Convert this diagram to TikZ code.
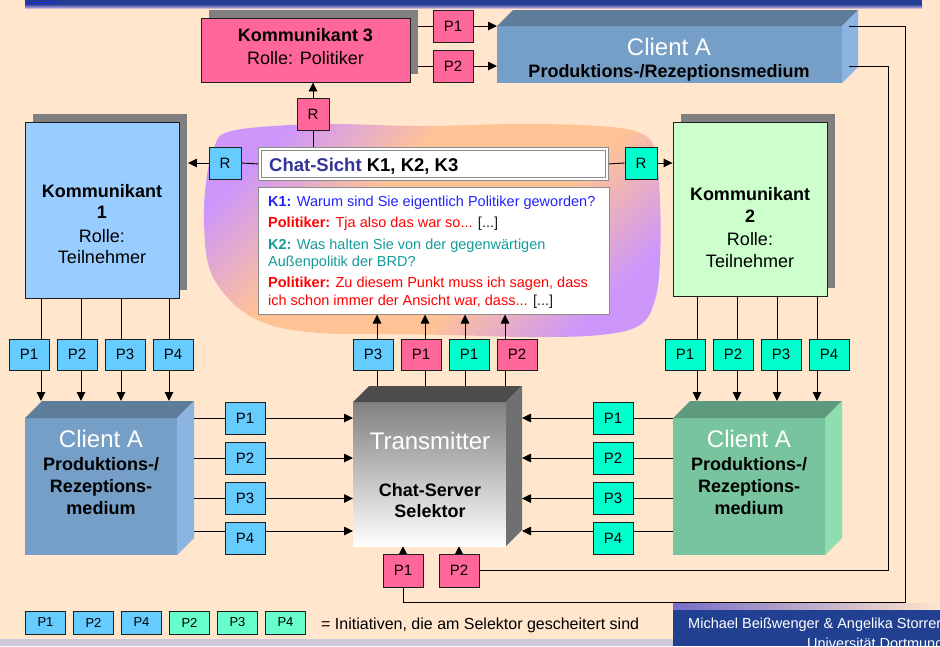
\documentclass[tikz,border=0pt]{standalone}
\usepackage{fontspec}
\setmainfont{Liberation Sans}
\usetikzlibrary{arrows.meta,calc,shadows}

\definecolor{bgpeach}{RGB}{255,230,204}
\definecolor{barblue}{RGB}{35,60,145}
\definecolor{barbright}{RGB}{30,40,225}
\definecolor{barlav}{RGB}{150,140,210}
\definecolor{footblue}{RGB}{33,64,145}
\definecolor{footlav}{RGB}{120,110,200}
\definecolor{stripgray}{RGB}{205,200,218}
\definecolor{blobpurple}{RGB}{205,150,250}
\definecolor{bloborange}{RGB}{255,195,150}
\definecolor{boxline}{RGB}{30,30,30}
\definecolor{shadowgray}{RGB}{128,128,128}
\definecolor{pinkc}{RGB}{255,102,153}
\definecolor{bluec}{RGB}{102,204,255}
\definecolor{tealc}{RGB}{0,255,204}
\definecolor{legblue}{RGB}{102,204,255}
\definecolor{leggreen}{RGB}{102,255,204}
\definecolor{kone}{RGB}{153,204,255}
\definecolor{ktwo}{RGB}{204,255,204}
\definecolor{cafront}{RGB}{117,159,198}
\definecolor{catop}{RGB}{93,125,155}
\definecolor{caside}{RGB}{139,181,224}
\definecolor{cgfront}{RGB}{119,196,158}
\definecolor{cgtop}{RGB}{94,154,125}
\definecolor{cgside}{RGB}{142,222,178}
\definecolor{trfront}{RGB}{128,128,128}
\definecolor{trtop}{RGB}{77,77,77}
\definecolor{trside}{RGB}{112,112,112}
\definecolor{headline}{RGB}{140,140,140}
\definecolor{chatblue}{RGB}{34,34,255}
\definecolor{chatred}{RGB}{255,0,0}
\definecolor{chatteal}{RGB}{20,155,155}
\definecolor{sichtblue}{RGB}{51,51,153}

% purple corners with a broad orange band across the cloud
\pgfdeclareverticalshading{cloudshade}{100bp}{%
  color(0bp)=(blobpurple); color(24bp)=(blobpurple); color(40bp)=(bloborange);
  color(60bp)=(bloborange); color(76bp)=(blobpurple); color(100bp)=(blobpurple)}

\pgfdeclarelayer{back}
\pgfdeclarelayer{wires}
\pgfsetlayers{back,wires,main}

% top face and right face of a box drawn in false perspective
\newcommand\cubefaces[4]{%
  \fill[#3] (#1.north west) -- ++(#2,-#2) -- ($(#1.north east)+(#2,-#2)$) -- (#1.north east) -- cycle;
  \fill[#4] (#1.north east) -- ++(#2,-#2) -- ($(#1.south east)+(#2,-#2)$) -- (#1.south east) -- cycle;}

\begin{document}
\begin{tikzpicture}[x=1pt,y=-1pt,
  box/.style={draw=boxline, line width=0.9pt, inner sep=0pt},
  pbox/.style={box, minimum width=40pt, minimum height=32pt, font=\fontsize{15}{18}\selectfont},
  legbox/.style={box, line width=0.8pt, minimum width=40pt, minimum height=23pt, font=\fontsize{13}{15}\selectfont},
  shadowed/.style={general shadow={fill=shadowgray, shadow xshift=8pt, shadow yshift=8pt}},
  wire/.style={line width=0.9pt, draw=black},
  arr/.style={wire, -{Triangle[width=8.5pt,length=9pt]}},
  face/.style={inner sep=0pt, outer sep=0pt},
  whitetitle/.style={anchor=base, text=white, inner sep=0pt, font=\fontsize{24}{28}\selectfont},
  boldline/.style={anchor=base, inner sep=0pt, font=\bfseries\fontsize{18}{22}\selectfont},
  plainline/.style={anchor=base, inner sep=0pt, font=\fontsize{18}{22}\selectfont},
  chatline/.style={anchor=base west, inner sep=0pt, font=\fontsize{14.5}{17}\selectfont},
]
\useasboundingbox (0,0) rectangle (940,646);

% ---------- background, title bar, chat cloud ----------
\begin{pgfonlayer}{back}
  \fill[bgpeach] (0,0) rectangle (940,646);
  \fill[barblue] (25,0) rectangle (922,4);
  \shade[top color=barblue, bottom color=barlav] (25,4) rectangle (922,7);
  \shade[top color=barlav, bottom color=bgpeach] (25,7) rectangle (922,9);
  \fill[barbright] (25,1.5) rectangle (57,3);
  \shade[shading=cloudshade, shading angle=45]
    plot[smooth cycle, tension=0.6] coordinates {
      (225,133) (260,127) (330,124) (420,126) (520,124) (600,126) (640,133)
      (655,150) (660,200) (660,260) (655,300) (640,325) (600,335) (530,337)
      (450,335) (380,334) (320,333) (270,325) (235,305) (210,270) (204,220)
      (207,175) (215,145)};
\end{pgfonlayer}

% ---------- Kommunikant 3 and its client ----------
\node[box, shadowed, fill=pinkc, minimum width=209pt, minimum height=64pt] (k3) at (305.5,50) {};
\node[boldline] (k3a) at (305.5,41.5) {Kommunikant 3};
\node[plainline] (k3b) at (305.5,64) {Rolle: Politiker};
\node[pbox, fill=pinkc] (k3p1) at (453,26) {P1};
\node[pbox, fill=pinkc] (k3p2) at (453,66) {P2};

\node[face, fill=cafront, minimum width=345pt, minimum height=57pt] (ca0) at (669.5,54.5) {};
\cubefaces{ca0}{16}{catop}{caside}
\node[whitetitle] (ca0a) at (669,55) {Client A};
\node[boldline] (ca0b) at (669,77) {Produktions-/Rezeptionsmedium};

% ---------- chat view ----------
\node[pbox, fill=pinkc, minimum width=32pt] (rt) at (313,114) {R};
\node[pbox, fill=bluec, minimum width=32pt] (rl) at (225,163) {R};
\node[pbox, fill=tealc, minimum width=32pt] (rr) at (641,163) {R};

\node[draw=headline, double=white, double distance=2pt, line width=1pt, fill=white,
      minimum width=347pt, minimum height=30pt, inner sep=0pt] (head) at (433.5,164) {};
\node[anchor=base west, inner sep=0pt, font=\bfseries\fontsize{18.5}{22}\selectfont] (headt) at (269,171)
  {\textcolor{sichtblue}{Chat-Sicht} K1, K2, K3};

\node[draw=headline, line width=1pt, fill=white, minimum width=351pt, minimum height=127pt] (chat) at (433.5,250.5) {};
\node[chatline, text=chatblue] (l1) at (268,206) {\textbf{K1:} Warum sind Sie eigentlich Politiker geworden?};
\node[chatline, text=chatred] (l2) at (268,227) {\textbf{Politiker:} Tja also das war so... \textcolor{boxline}{[...]}};
\node[chatline, text=chatteal] (l3) at (268,249) {\textbf{K2:} Was halten Sie von der gegenwärtigen};
\node[chatline, text=chatteal] (l4) at (268,266) {Außenpolitik der BRD?};
\node[chatline, text=chatred] (l5) at (268,287) {\textbf{Politiker:} Zu diesem Punkt muss ich sagen, dass};
\node[chatline, text=chatred] (l6) at (268,305) {ich schon immer der Ansicht war, dass... \textcolor{boxline}{[...]}};

% ---------- Kommunikant 1 ----------
\node[box, shadowed, fill=kone, minimum width=154pt, minimum height=176pt] (k1) at (102,210) {};
\node[boldline] (k1a) at (102,197) {Kommunikant};
\node[boldline] (k1b) at (102,218) {1};
\node[plainline] (k1c) at (102,242) {Rolle:};
\node[plainline] (k1d) at (102,263) {Teilnehmer};
\node[pbox, fill=bluec, minimum height=31pt] (k1p1) at (29,354.5) {P1};
\node[pbox, fill=bluec, minimum height=31pt] (k1p2) at (77,354.5) {P2};
\node[pbox, fill=bluec, minimum height=31pt] (k1p3) at (125,354.5) {P3};
\node[pbox, fill=bluec, minimum height=31pt] (k1p4) at (173,354.5) {P4};

\node[face, fill=cafront, minimum width=152pt, minimum height=137pt] (cl1) at (101,486.5) {};
\cubefaces{cl1}{17}{catop}{caside}
\node[whitetitle] (cl1a) at (101,447) {Client A};
\node[boldline] (cl1b) at (101,470) {Produktions-/};
\node[boldline] (cl1c) at (101,492) {Rezeptions-};
\node[boldline] (cl1d) at (101,514) {medium};

\node[pbox, fill=bluec] (lp1) at (245,418) {P1};
\node[pbox, fill=bluec] (lp2) at (245,458) {P2};
\node[pbox, fill=bluec] (lp3) at (245,498.5) {P3};
\node[pbox, fill=bluec] (lp4) at (245,538.5) {P4};

% ---------- Transmitter ----------
\node[face, top color=trfront, bottom color=white, minimum width=153pt, minimum height=144pt] (tr) at (429.5,474) {};
\cubefaces{tr}{16}{trtop}{trside}
\node[whitetitle] (tra) at (430,449) {Transmitter};
\node[boldline] (trb) at (430,496) {Chat-Server};
\node[boldline] (trc) at (430,517) {Selektor};

\node[pbox, fill=bluec, minimum height=31pt] (tp3) at (373,354.5) {P3};
\node[pbox, fill=pinkc, minimum height=31pt] (tp1) at (421,354.5) {P1};
\node[pbox, fill=tealc, minimum height=31pt] (tq1) at (469,354.5) {P1};
\node[pbox, fill=pinkc, minimum height=31pt] (tp2) at (517,354.5) {P2};

\node[pbox, fill=pinkc, minimum height=33pt] (bp1) at (403,570.5) {P1};
\node[pbox, fill=pinkc, minimum height=33pt] (bp2) at (459,570.5) {P2};

% ---------- Kommunikant 2 ----------
\node[box, shadowed, fill=ktwo, minimum width=154pt, minimum height=174pt] (k2) at (750,209) {};
\node[boldline] (k2a) at (750,200) {Kommunikant};
\node[boldline] (k2b) at (750,222.5) {2};
\node[plainline] (k2c) at (750,245) {Rolle:};
\node[plainline] (k2d) at (750,267) {Teilnehmer};
\node[pbox, fill=tealc, minimum height=31pt] (k2p1) at (685,354.5) {P1};
\node[pbox, fill=tealc, minimum height=31pt] (k2p2) at (733,354.5) {P2};
\node[pbox, fill=tealc, minimum height=31pt] (k2p3) at (781,354.5) {P3};
\node[pbox, fill=tealc, minimum height=31pt] (k2p4) at (829,354.5) {P4};

\node[face, fill=cgfront, minimum width=152pt, minimum height=137pt] (cl2) at (749,486.5) {};
\cubefaces{cl2}{17}{cgtop}{cgside}
\node[whitetitle] (cl2a) at (749,447) {Client A};
\node[boldline] (cl2b) at (749,470) {Produktions-/};
\node[boldline] (cl2c) at (749,492) {Rezeptions-};
\node[boldline] (cl2d) at (749,514) {medium};

\node[pbox, fill=tealc] (rp1) at (613,418) {P1};
\node[pbox, fill=tealc] (rp2) at (613,458) {P2};
\node[pbox, fill=tealc] (rp3) at (613,498.5) {P3};
\node[pbox, fill=tealc] (rp4) at (613,538.5) {P4};

% ---------- legend and footer ----------
\node[legbox, fill=legblue] (lg1) at (45.5,622.5) {P1};
\node[legbox, fill=legblue] (lg2) at (93.5,622.5) {P2};
\node[legbox, fill=legblue] (lg3) at (141.5,622.5) {P4};
\node[legbox, fill=leggreen] (lg4) at (189.5,622.5) {P2};
\node[legbox, fill=leggreen] (lg5) at (237.5,622.5) {P3};
\node[legbox, fill=leggreen] (lg6) at (285.5,622.5) {P4};
\node[anchor=base west, inner sep=0pt, font=\fontsize{16}{19}\selectfont] (lgt) at (321,629)
  {= Initiativen, die am Selektor gescheitert sind};

\fill[stripgray] (0,639) rectangle (673,646);
\fill[footblue] (673,609) rectangle (940,646);
\shade[left color=footlav, right color=bgpeach] (673,603) rectangle (940,609);
\begin{scope}
  \clip (0,0) rectangle (940,646);
  \node[anchor=base west, inner sep=0pt, text=white, font=\fontsize{14.5}{17}\selectfont] (fa) at (688,628)
    {Michael Beißwenger \& Angelika Storrer};
  \node[anchor=base west, inner sep=0pt, text=white, font=\fontsize{14.5}{17}\selectfont] (fb) at (807,648)
    {Universität Dortmund};
\end{scope}

% ---------- connector end points ----------
\coordinate (u1) at (41,401);  \coordinate (u2) at (81,401);
\coordinate (u3) at (121,401); \coordinate (u4) at (169,401);
\coordinate (w1) at (697,401); \coordinate (w2) at (737,401);
\coordinate (w3) at (777,401); \coordinate (w4) at (817,401);
\coordinate (v1) at (377,386); \coordinate (v2) at (425,386);
\coordinate (v3) at (465,386); \coordinate (v4) at (505,386);
\coordinate (h1) at (lp1.center); \coordinate (h2) at (lp2.center);
\coordinate (h3) at (lp3.center); \coordinate (h4) at ([yshift=7.5pt]lp4.center);
\coordinate (trR) at ($(tr.east)+(16,0)$);
\coordinate (railA) at (905,602);
\coordinate (railB) at (888,570.5);
\coordinate (outA) at ($(k3p1 -| ca0.east)+(7,0)$);
\coordinate (outB) at ($(k3p2 -| ca0.east)+(7,0)$);

% return paths from the upper client, drawn over its side face
\draw[wire] (outA) -| (railA) -| (bp1.south);
\draw[wire] (outB) -| (railB) -- (bp2.east);

% ---------- connectors ----------
\begin{pgfonlayer}{wires}
  % Kommunikant 3
  \draw[wire] (k3p1.west -| k3.east) -- (k3p1.west);
  \draw[wire] (k3p2.west -| k3.east) -- (k3p2.west);
  \draw[arr] (k3p1.east) -- (k3p1.east -| ca0.west);
  \draw[arr] (k3p2.east) -- (k3p2.east -| ca0.west);
  \draw[arr] (bp1.north) -- (bp1.north |- tr.south);
  \draw[arr] (bp2.north) -- (bp2.north |- tr.south);
  % chat view
  \draw[wire] (rt.south) -- (rt.south |- head.north);
  \draw[arr] (rt.north) -- (rt.north |- k3.south);
  \draw[wire] (head.west) -- (rl.east);
  \draw[arr] (rl.west) -- ($(rl.west -| k1.east)+(8.5,0)$);
  \draw[wire] (head.east) -- (rr.west);
  \draw[arr] (rr.east) -- (rr.east -| k2.west);
  % Kommunikant 1
  \foreach \c in {u1,u2,u3,u4} \draw[arr] (\c |- k1.south) -- (\c);
  \foreach \c in {h1,h2,h3,h4} \draw[arr] (\c -| cl1.east) -- (\c -| tr.west);
  % transmitter to chat view
  \foreach \c in {v1,v2,v3,v4} \draw[arr] (\c) -- (\c |- chat.south);
  % Kommunikant 2
  \foreach \c in {w1,w2,w3,w4} \draw[arr] (\c |- k2.south) -- (\c);
  \foreach \c in {h1,h2,h3,h4} \draw[arr] (\c -| cl2.west) -- (\c -| trR);
\end{pgfonlayer}
\end{tikzpicture}
\end{document}
